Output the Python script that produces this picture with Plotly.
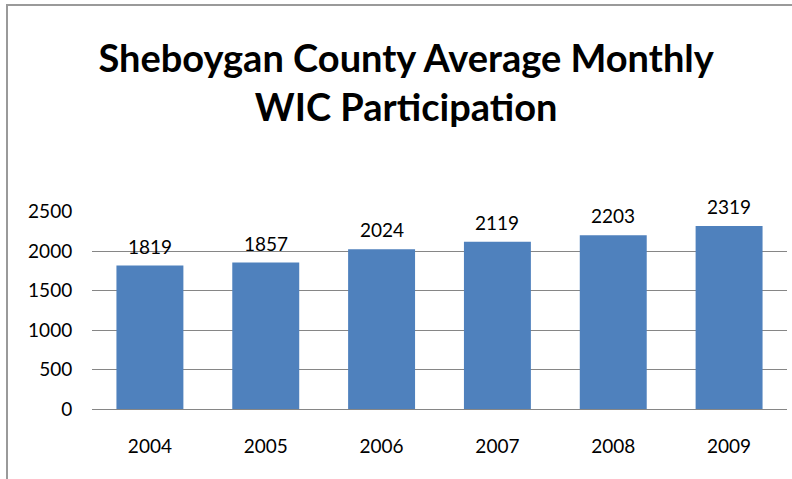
import plotly.graph_objects as go

years = ["2004", "2005", "2006", "2007", "2008", "2009"]
participation = [1819, 1857, 2024, 2119, 2203, 2319]
y_ticks = [0, 500, 1000, 1500, 2000, 2500]
title_text = "Sheboygan County Average Monthly<br>WIC Participation"

FONT = "Lato, 'Open Sans', sans-serif"

fig = go.Figure()
fig.add_trace(go.Bar(
    x=years, y=participation,
    marker=dict(color="#4F81BD", line=dict(width=0)),
    hoverinfo="x+y",
))

for i, v in enumerate(participation):
    fig.add_annotation(
        x=i, y=v, text=str(v), showarrow=False,
        yanchor="bottom", yshift=6,
        font=dict(family=FONT, size=19, color="#000000"),
    )

# outer chart border (extends past the right/bottom edges as in the reference)
fig.add_shape(
    type="rect", xref="paper", yref="paper",
    x0=-0.1223, x1=1.05, y0=-0.5, y1=2.04,
    line=dict(color="#9A9A9A", width=2), fillcolor="rgba(0,0,0,0)",
    layer="below",
)

fig.update_layout(
    width=792, height=479,
    margin=dict(l=92, r=5, t=211, b=70),
    paper_bgcolor="white", plot_bgcolor="white",
    showlegend=False,
    bargap=0.422,
    title=dict(
        text=title_text, x=0.452, xanchor="center", xref="paper",
        y=0.85, yanchor="middle",
        font=dict(family=FONT, size=38, color="#000000", weight="bold"),
    ),
    xaxis=dict(
        type="category", categoryorder="array", categoryarray=years,
        range=[-0.5, 5.5],
        showgrid=False, showline=False, zeroline=False,
        ticks="outside", ticklen=20, tickcolor="rgba(0,0,0,0)",
        tickfont=dict(family=FONT, size=19, color="#000000"),
    ),
    yaxis=dict(
        range=[0, 2510], tickvals=y_ticks,
        ticktext=[str(t) for t in y_ticks],
        showgrid=True, gridcolor="#868686", gridwidth=1,
        zeroline=True, zerolinecolor="#868686", zerolinewidth=1,
        showline=False, ticks="outside", ticklen=15, tickcolor="rgba(0,0,0,0)",
        tickfont=dict(family=FONT, size=19, color="#000000"),
    ),
)

fig.write_html("out.html", config={"displayModeBar": False},
               post_script="document.body.style.margin='0';")
